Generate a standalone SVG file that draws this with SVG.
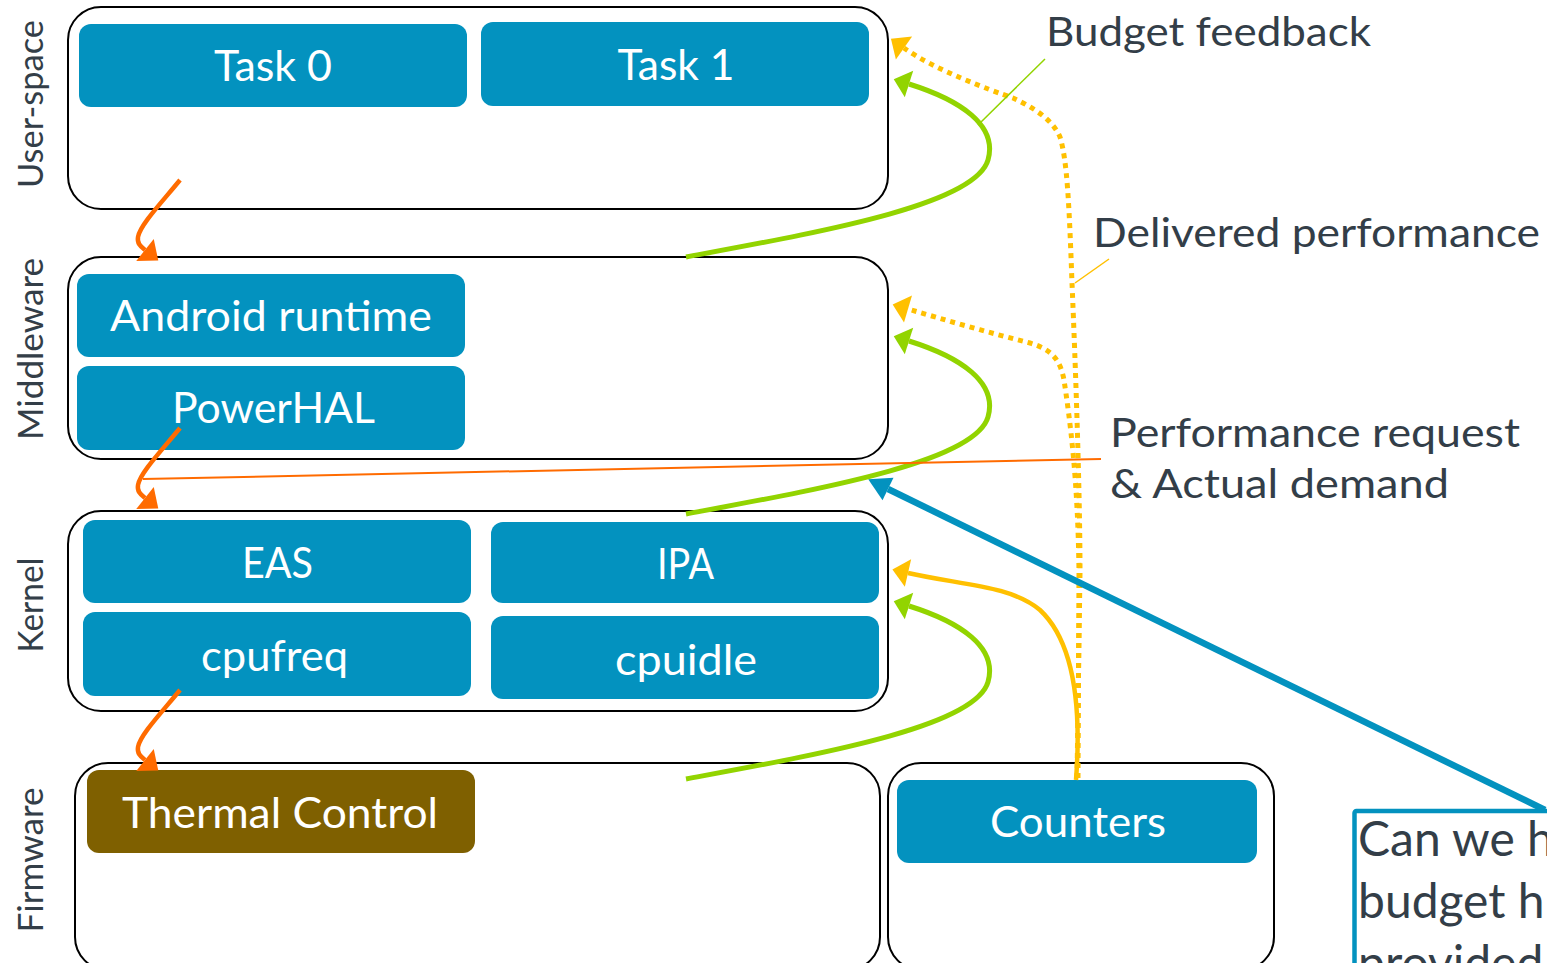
<svg xmlns="http://www.w3.org/2000/svg" width="1547" height="963" viewBox="0 0 1547 963">
  <style>
    text { font-family: "Lato", "Liberation Sans", sans-serif; }
    .layer { fill: #ffffff; stroke: #000000; stroke-width: 2; }
    .node { fill: #0392bf; }
    .node-fw { fill: #7f6000; }
    .label { fill: #ffffff; font-size: 43px; text-anchor: middle; }
    .side { fill: #333e48; font-size: 35px; text-anchor: middle; }
    .note { fill: #333e48; font-size: 40px; }
    .callout-text { fill: #333e48; font-size: 48px; }
    .green { fill: none; stroke: #92d400; stroke-width: 5; }
    .orange { fill: none; stroke: #ff6b00; stroke-width: 4.5; }
    .yellow { fill: none; stroke: #ffc000; stroke-width: 4.5; }
    .dotted { fill: none; stroke: #ffc000; stroke-width: 5; stroke-dasharray: 5 5; }
    .teal { fill: none; stroke: #0392bf; stroke-width: 6.5; }
  </style>
  <defs>
    <marker id="ah-green" markerUnits="userSpaceOnUse" orient="auto" refX="0" refY="0" markerWidth="40" markerHeight="40" overflow="visible">
      <path d="M0,-14 L16,0 L0,14 z" fill="#92d400"/>
    </marker>
    <marker id="ah-yellow" markerUnits="userSpaceOnUse" orient="auto" refX="0" refY="0" markerWidth="40" markerHeight="40" overflow="visible">
      <path d="M0,-14 L16,0 L0,14 z" fill="#ffc000"/>
    </marker>
    <marker id="ah-orange" markerUnits="userSpaceOnUse" orient="auto" refX="0" refY="0" markerWidth="40" markerHeight="40" overflow="visible">
      <path d="M0,-14 L17,0 L0,14 z" fill="#ff6b00"/>
    </marker>
    <marker id="ah-teal" markerUnits="userSpaceOnUse" orient="auto" refX="0" refY="0" markerWidth="40" markerHeight="40" overflow="visible">
      <path d="M0,-12.5 L22,0 L0,12.5 z" fill="#0392bf"/>
    </marker>
  </defs>

  <!-- layer side labels -->
  <g id="side-labels">
    <text class="side" transform="translate(43,104) rotate(-90)" textLength="168" lengthAdjust="spacingAndGlyphs">User-space</text>
    <text class="side" transform="translate(43,349) rotate(-90)" textLength="182" lengthAdjust="spacingAndGlyphs">Middleware</text>
    <text class="side" transform="translate(43,605) rotate(-90)" textLength="95" lengthAdjust="spacingAndGlyphs">Kernel</text>
    <text class="side" transform="translate(43,860) rotate(-90)" textLength="145" lengthAdjust="spacingAndGlyphs">Firmware</text>
  </g>

  <!-- software stack layers -->
  <g id="layer-userspace">
    <rect class="layer" x="68" y="7" width="820" height="202" rx="33"/>
  </g>
  <g id="layer-middleware">
    <rect class="layer" x="68" y="257" width="820" height="202" rx="33"/>
  </g>
  <g id="layer-kernel">
    <rect class="layer" x="68" y="511" width="820" height="200" rx="33"/>
  </g>
  <g id="layer-firmware">
    <rect class="layer" x="75" y="763" width="805" height="207" rx="33"/>
  </g>
  <g id="layer-counters">
    <rect class="layer" x="888" y="763" width="386" height="207" rx="33"/>
  </g>

  <!-- components -->
  <g id="task0">
    <rect class="node" x="79" y="24" width="388" height="83" rx="12"/>
    <text class="label" x="273" y="81" textLength="118" lengthAdjust="spacingAndGlyphs">Task 0</text>
  </g>
  <g id="task1">
    <rect class="node" x="481" y="22" width="388" height="84" rx="12"/>
    <text class="label" x="676" y="80" textLength="117" lengthAdjust="spacingAndGlyphs">Task 1</text>
  </g>
  <g id="android-runtime">
    <rect class="node" x="77" y="274" width="388" height="83" rx="12"/>
    <text class="label" x="271" y="331" textLength="322" lengthAdjust="spacingAndGlyphs">Android runtime</text>
  </g>
  <g id="powerhal">
    <rect class="node" x="77" y="366" width="388" height="84" rx="12"/>
    <text class="label" x="273.5" y="423" textLength="203" lengthAdjust="spacingAndGlyphs">PowerHAL</text>
  </g>
  <g id="eas">
    <rect class="node" x="83" y="520" width="388" height="83" rx="12"/>
    <text class="label" x="277.5" y="578" textLength="71" lengthAdjust="spacingAndGlyphs">EAS</text>
  </g>
  <g id="cpufreq">
    <rect class="node" x="83" y="612" width="388" height="84" rx="12"/>
    <text class="label" x="274.5" y="671" textLength="147" lengthAdjust="spacingAndGlyphs">cpufreq</text>
  </g>
  <g id="ipa">
    <rect class="node" x="491" y="522" width="388" height="81" rx="12"/>
    <text class="label" x="685.5" y="579" textLength="57" lengthAdjust="spacingAndGlyphs">IPA</text>
  </g>
  <g id="cpuidle">
    <rect class="node" x="491" y="616" width="388" height="83" rx="12"/>
    <text class="label" x="686" y="675" textLength="142" lengthAdjust="spacingAndGlyphs">cpuidle</text>
  </g>
  <g id="thermal-control">
    <rect class="node-fw" x="87" y="770" width="388" height="83" rx="12"/>
    <text class="label" x="280" y="828" textLength="316" lengthAdjust="spacingAndGlyphs">Thermal Control</text>
  </g>
  <g id="counters">
    <rect class="node" x="897" y="780" width="360" height="83" rx="12"/>
    <text class="label" x="1078" y="837" textLength="176" lengthAdjust="spacingAndGlyphs">Counters</text>
  </g>

  <!-- annotations -->
  <g id="annotations">
    <text class="note" x="1046" y="46" textLength="325" lengthAdjust="spacingAndGlyphs">Budget feedback</text>
    <text class="note" x="1093" y="247" textLength="447" lengthAdjust="spacingAndGlyphs">Delivered performance</text>
    <text class="note" x="1110" y="447" textLength="410" lengthAdjust="spacingAndGlyphs">Performance request</text>
    <text class="note" x="1110" y="498" textLength="339" lengthAdjust="spacingAndGlyphs">&amp; Actual demand</text>
  </g>

  <!-- question callout -->
  <g id="callout">
    <rect x="1354.5" y="811" width="320" height="300" rx="2" fill="#ffffff" stroke="#0392bf" stroke-width="4.5"/>
    <text class="callout-text" x="1358" y="856">Can we h</text>
    <text class="callout-text" x="1358" y="918">budget h</text>
    <text class="callout-text" x="1358" y="980">provided</text>
  </g>

  <!-- connectors -->
  <g id="connectors">
    <!-- request path down the stack -->
    <path class="orange" transform="translate(180,180)" d="M0,0 C-18,22 -40,45 -42,57 C-43,63 -40,66 -35,70" marker-end="url(#ah-orange)"/>
    <path class="orange" transform="translate(180,428)" d="M0,0 C-18,22 -40,45 -42,57 C-43,63 -40,66 -35,70" marker-end="url(#ah-orange)"/>
    <path class="orange" transform="translate(180,690)" d="M0,0 C-18,22 -40,45 -42,57 C-43,63 -40,66 -35,70" marker-end="url(#ah-orange)"/>

    <!-- budget feedback loops -->
    <path class="green" d="M686,257 C820,232 975,205 988,160 C998,125 960,100 909,84" marker-end="url(#ah-green)"/>
    <path class="green" transform="translate(0,257)" d="M686,257 C820,232 975,205 988,160 C998,125 960,100 909,84" marker-end="url(#ah-green)"/>
    <path class="green" transform="translate(0,522)" d="M686,257 C820,232 975,205 988,160 C998,125 960,100 909,84" marker-end="url(#ah-green)"/>

    <!-- delivered performance from counters -->
    <path class="yellow" d="M1076,780 C1082,700 1072,640 1040,610 C1010,585 960,585 908,573" marker-end="url(#ah-yellow)"/>
    <path class="dotted" d="M1077,778 L1080,573 C1080,480 1074,330 1072,283 C1069,200 1067,160 1060,137 C1052,118 1030,106 1013,98 C990,90 935,70 904,48" marker-end="url(#ah-yellow)"/>
    <path class="dotted" d="M1078,778 L1079,573 C1078,480 1070,420 1064,380 C1060,358 1050,349 1030,343 C990,333 945,320 908,309" marker-end="url(#ah-yellow)"/>

    <!-- leader lines -->
    <line x1="1045" y1="59" x2="978" y2="125" stroke="#92d400" stroke-width="1.5"/>
    <line x1="1109" y1="259" x2="1075" y2="283" stroke="#ffc000" stroke-width="1.5"/>
    <line x1="1101" y1="459" x2="143" y2="479" stroke="#ff6b00" stroke-width="2"/>

    <!-- callout pointer -->
    <path class="teal" d="M1545,810 L888,489" marker-end="url(#ah-teal)"/>
  </g>
</svg>
